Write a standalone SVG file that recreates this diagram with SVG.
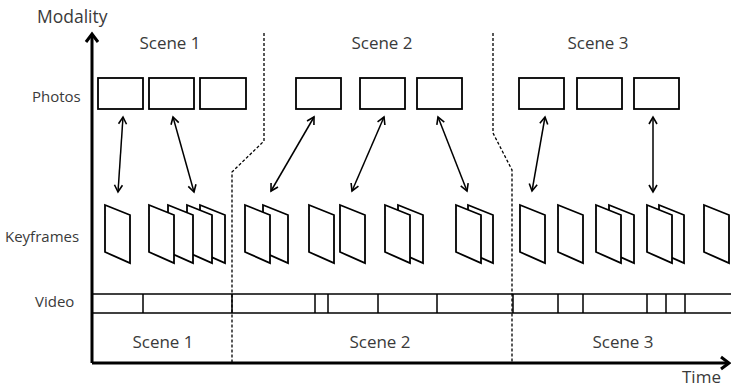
<svg xmlns="http://www.w3.org/2000/svg" width="731" height="388" viewBox="0 0 731 388">
<style>
text{font-family:"Open Sans","Liberation Sans",sans-serif;fill:#3a3a3a;}
.t15{font-size:17px;}
.t13{font-size:15px;}
.photo{fill:#fff;stroke:#000;stroke-width:1.8;}
.kf{fill:#fff;stroke:#000;stroke-width:1.8;stroke-linejoin:miter;}
.dash{fill:none;stroke:#000;stroke-width:1.3;stroke-dasharray:3,2;}
.axis{fill:none;stroke:#000;stroke-width:3;}
.link{fill:none;stroke:#000;stroke-width:1.5;marker-start:url(#ah);marker-end:url(#ah);}
.vid{fill:none;stroke:#000;stroke-width:1.5;}
</style>
<defs>
<marker id="ah" markerUnits="userSpaceOnUse" markerWidth="12" markerHeight="12" viewBox="-9 -6 12 12" refX="0" refY="0" orient="auto-start-reverse">
<path d="M-7,-4 L0,0 L-7,4" fill="none" stroke="#000" stroke-width="1.6"/>
</marker>
<path id="kf" d="M0,0 L25,10 L25,58 L0,47 Z"/>
</defs>

<g id="labels">
<text class="t15" x="37" y="23" style="font-size:17.5px">Modality</text>
<text class="t15" x="170" y="49" text-anchor="middle">Scene 1</text>
<text class="t15" x="382" y="49" text-anchor="middle">Scene 2</text>
<text class="t15" x="598" y="49" text-anchor="middle">Scene 3</text>
<text class="t13" x="32" y="102">Photos</text>
<text class="t13" x="5" y="242">Keyframes</text>
<text class="t13" x="35" y="307">Video</text>
<text class="t15" x="163" y="348" text-anchor="middle">Scene 1</text>
<text class="t15" x="380" y="348" text-anchor="middle">Scene 2</text>
<text class="t15" x="623" y="348" text-anchor="middle">Scene 3</text>
<text class="t15" x="682" y="383">Time</text>
</g>

<g id="photos">
<rect class="photo" x="98" y="78" width="45" height="31"/>
<rect class="photo" x="149" y="78" width="45" height="31"/>
<rect class="photo" x="200" y="78" width="46" height="31"/>
<rect class="photo" x="296" y="78" width="45" height="31"/>
<rect class="photo" x="360" y="78" width="45" height="31"/>
<rect class="photo" x="417" y="78" width="45" height="31"/>
<rect class="photo" x="519" y="78" width="45" height="31"/>
<rect class="photo" x="577" y="78" width="45" height="31"/>
<rect class="photo" x="634" y="78" width="45" height="31"/>
</g>

<g id="keyframes" class="kf">
<use href="#kf" x="105" y="205"/>
<use href="#kf" x="200" y="205"/>
<use href="#kf" x="187" y="205"/>
<use href="#kf" x="168" y="205"/>
<use href="#kf" x="149" y="205"/>
<use href="#kf" x="263" y="205"/>
<use href="#kf" x="245" y="205"/>
<use href="#kf" x="309" y="205"/>
<use href="#kf" x="340" y="205"/>
<use href="#kf" x="398" y="205"/>
<use href="#kf" x="385" y="205"/>
<use href="#kf" x="468" y="205"/>
<use href="#kf" x="456" y="205"/>
<use href="#kf" x="520" y="205"/>
<use href="#kf" x="558" y="205"/>
<use href="#kf" x="609" y="205"/>
<use href="#kf" x="596" y="205"/>
<use href="#kf" x="659" y="205"/>
<use href="#kf" x="647" y="205"/>
<use href="#kf" x="704" y="205"/>
</g>

<g id="video" class="vid">
<line x1="92" y1="294" x2="731" y2="294"/>
<line x1="92" y1="313" x2="731" y2="313"/>
<path d="M143,294V313 M232,294V313 M315,294V313 M328,294V313 M378,294V313 M437,294V313 M513,294V313 M558,294V313 M583,294V313 M647,294V313 M666,294V313 M685,294V313"/>
</g>

<g id="connectors">
<line class="link" x1="123" y1="117" x2="118" y2="192"/>
<line class="link" x1="173" y1="117" x2="194" y2="192"/>
<line class="link" x1="314" y1="117" x2="271" y2="191"/>
<line class="link" x1="384" y1="117" x2="352" y2="191"/>
<line class="link" x1="438" y1="117" x2="467" y2="191"/>
<line class="link" x1="545" y1="117" x2="532" y2="191"/>
<line class="link" x1="653" y1="117" x2="653" y2="192"/>
</g>

<g id="scene-boundaries">
<path class="dash" d="M264,33 V141 L232,172 V362"/>
<path class="dash" d="M493,33 V133 L512,170 V362"/>
</g>

<g id="axes">
<path class="axis" d="M92,363 V34"/>
<path class="axis" d="M92,363 H729"/>
<path class="axis" d="M86,42 L92,34 L98,42"/>
<path class="axis" d="M721,357 L729,363 L721,369"/>
</g>
</svg>
